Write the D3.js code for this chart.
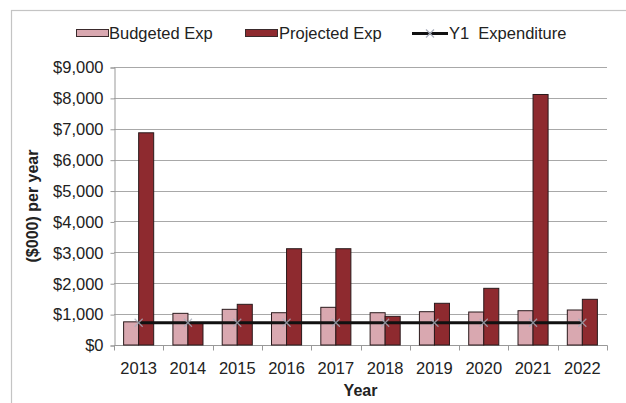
<!DOCTYPE html>
<html>
<head>
<meta charset="utf-8">
<script src="https://cdn.jsdelivr.net/npm/d3@7/dist/d3.min.js"></script>
<style>
  html, body { margin: 0; padding: 0; background: #fff; }
  svg { display: block; }
  text { font-family: "Liberation Sans", Arial, sans-serif; fill: #222; }
</style>
</head>
<body>
<svg id="chart" width="626" height="403"></svg>
<script>
// Annual expenditure, $000 per year
const years = ["2013", "2014", "2015", "2016", "2017", "2018", "2019", "2020", "2021", "2022"];
const budgeted = [750, 1025, 1155, 1045, 1220, 1045, 1078, 1068, 1110, 1133];
const projected = [6870, 720, 1317, 3117, 3117, 928, 1350, 1835, 8110, 1479];
const y1Expenditure = [720, 720, 720, 720, 720, 720, 720, 720, 720, 720];
const seriesNames = ["Budgeted Exp", "Projected Exp"];
const lineName = "Y1  Expenditure";
const yTicks = [0, 1000, 2000, 3000, 4000, 5000, 6000, 7000, 8000, 9000];

const colors = { budgeted: "#d9a8b0", projected: "#8e2a2f", line: "#111", marker: "#a9aebb" };

const svg = d3.select("#chart");
const plot = { left: 114, right: 607, top: 67, bottom: 345 };

// frame around the chart
svg.append("rect")
  .attr("x", 11.5).attr("y", 10.5).attr("width", 640).attr("height", 420)
  .attr("fill", "none").attr("stroke", "#c4c4c4").attr("stroke-width", 1.2);

const x = d3.scaleBand().domain(years).range([plot.left, plot.right]).paddingInner(0.39).paddingOuter(0.195);
const xSub = d3.scaleBand().domain(seriesNames).range([0, x.bandwidth()]);
const y = d3.scaleLinear().domain([0, 9000]).range([plot.bottom, plot.top]);

// gridlines
svg.append("g").selectAll("line").data(yTicks.filter(d => d > 0)).join("line")
  .attr("x1", plot.left).attr("x2", plot.right)
  .attr("y1", d => Math.round(y(d)) + 0.5).attr("y2", d => Math.round(y(d)) + 0.5)
  .attr("stroke", "#a8a8a8").attr("stroke-width", 1);

// y axis
const yAxis = d3.axisLeft(y).tickValues(yTicks).tickSize(4).tickPadding(7)
  .tickFormat(d => "$" + d3.format(",")(d));
const gy = svg.append("g").attr("transform", `translate(${plot.left + 0.5},0.5)`).call(yAxis);
gy.select(".domain").attr("stroke", "#999");
gy.selectAll(".tick line").attr("stroke", "#999");
gy.selectAll(".tick text").attr("font-size", "16.5px")
  .attr("font-family", "Liberation Sans, Arial, sans-serif").attr("fill", "#222");

// x axis: ticks sit between categories
const gx = svg.append("g").attr("transform", `translate(0,${plot.bottom + 0.5})`);
gx.append("line").attr("x1", plot.left).attr("x2", plot.right + 0.5).attr("stroke", "#999");
gx.selectAll("line.tk").data(d3.range(years.length + 1)).join("line").attr("class", "tk")
  .attr("x1", i => Math.round(plot.left + i * x.step()) + 0.5)
  .attr("x2", i => Math.round(plot.left + i * x.step()) + 0.5)
  .attr("y1", 0).attr("y2", 5).attr("stroke", "#999");
gx.selectAll("text").data(years).join("text")
  .attr("x", d => x(d) + x.bandwidth() / 2).attr("y", 28)
  .attr("text-anchor", "middle").attr("font-size", "16.5px").text(d => d);

// bars
const rows = years.map((yr, i) => ({ yr, vals: [budgeted[i], projected[i]] }));
const groups = svg.append("g").selectAll("g").data(rows).join("g")
  .attr("transform", d => `translate(${x(d.yr)},0)`);
groups.selectAll("rect").data(d => d.vals.map((v, j) => ({ v, s: seriesNames[j] }))).join("rect")
  .attr("x", d => xSub(d.s)).attr("width", xSub.bandwidth())
  .attr("y", d => y(d.v)).attr("height", d => y(0) - y(d.v))
  .attr("fill", d => d.s === seriesNames[0] ? colors.budgeted : colors.projected)
  .attr("stroke", "#2a1a1c").attr("stroke-width", 1);

// Y1 expenditure line with x markers
const line = d3.line().x((d, i) => x(years[i]) + x.bandwidth() / 2).y(d => y(d));
svg.append("path").datum(y1Expenditure).attr("d", line)
  .attr("fill", "none").attr("stroke", colors.line).attr("stroke-width", 3.2);
svg.append("g").selectAll("path").data(y1Expenditure).join("path")
  .attr("transform", (d, i) => `translate(${x(years[i]) + x.bandwidth() / 2},${y(d)})`)
  .attr("d", "M-4,-4L4,4M-4,4L4,-4")
  .attr("stroke", colors.marker).attr("stroke-width", 1.2).attr("opacity", 0.8);

// axis titles
svg.append("text").attr("x", (plot.left + plot.right) / 2).attr("y", 396)
  .attr("text-anchor", "middle").attr("font-size", "16px").attr("font-weight", "bold").text("Year");
svg.append("text").attr("transform", `translate(38,${(plot.top + plot.bottom) / 2}) rotate(-90)`)
  .attr("text-anchor", "middle").attr("font-size", "16px").attr("font-weight", "bold")
  .text("($000) per year");

// legend
const lg = svg.append("g");
lg.append("rect").attr("x", 76.5).attr("y", 29.5).attr("width", 32).attr("height", 7)
  .attr("fill", colors.budgeted).attr("stroke", "#3a2a2c");
lg.append("text").attr("x", 109).attr("y", 39).attr("font-size", "16.5px").text(seriesNames[0]);
lg.append("rect").attr("x", 245.5).attr("y", 29.5).attr("width", 32).attr("height", 7)
  .attr("fill", colors.projected).attr("stroke", "#3a2a2c");
lg.append("text").attr("x", 279).attr("y", 39).attr("font-size", "16.5px").text(seriesNames[1]);
lg.append("line").attr("x1", 412).attr("x2", 448).attr("y1", 33.5).attr("y2", 33.5)
  .attr("stroke", colors.line).attr("stroke-width", 3);
lg.append("path").attr("transform", "translate(430,33.5)").attr("d", "M-4,-4L4,4M-4,4L4,-4")
  .attr("stroke", colors.marker).attr("stroke-width", 1.2);
lg.append("text").attr("x", 449).attr("y", 39).attr("font-size", "16.5px")
  .style("white-space", "pre").text(lineName);
</script>
</body>
</html>
